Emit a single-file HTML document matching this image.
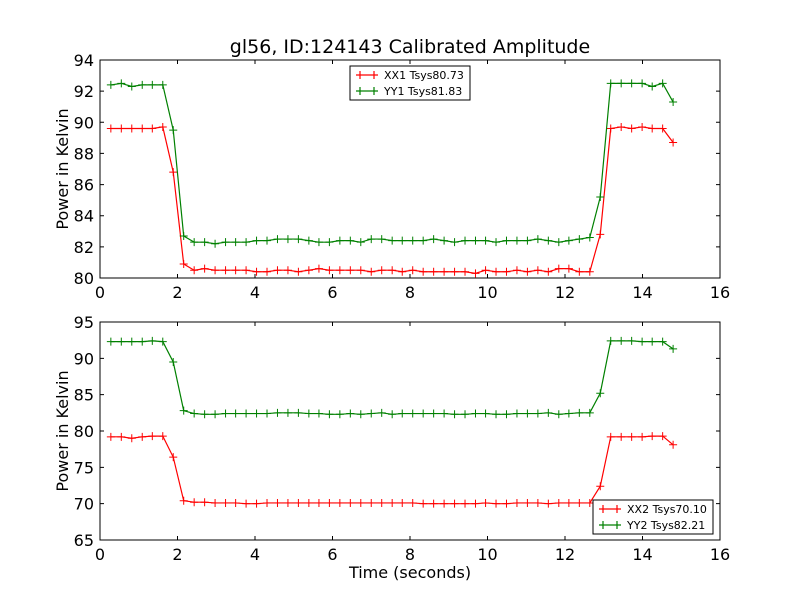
<!DOCTYPE html>
<html><head><meta charset="utf-8">
<style>
html,body{margin:0;padding:0;background:#fff;}
svg{display:block;font-family:"DejaVu Sans","Liberation Sans",sans-serif;}
</style></head>
<body>
<svg id="chart" width="800" height="600" viewBox="0 0 800 600">
<rect width="800" height="600" fill="#fff"/>
<text x="410" y="53" font-size="19" text-anchor="middle">gl56, ID:124143 Calibrated Amplitude</text>
</svg>
<script>
const times = [0.28,0.55,0.82,1.09,1.35,1.62,1.89,2.16,2.43,2.70,2.97,3.24,3.50,3.77,4.04,4.31,4.58,4.85,5.12,5.39,5.65,5.92,6.19,6.46,6.73,7.00,7.27,7.54,7.80,8.07,8.34,8.61,8.88,9.15,9.42,9.69,9.95,10.22,10.49,10.76,11.03,11.30,11.57,11.84,12.10,12.37,12.64,12.91,13.18,13.45,13.72,13.99,14.25,14.52,14.79];
const xx1 = [89.6,89.6,89.6,89.6,89.6,89.7,86.8,80.9,80.5,80.6,80.5,80.5,80.5,80.5,80.4,80.4,80.5,80.5,80.4,80.5,80.6,80.5,80.5,80.5,80.5,80.4,80.5,80.5,80.4,80.5,80.4,80.4,80.4,80.4,80.4,80.3,80.5,80.4,80.4,80.5,80.4,80.5,80.4,80.6,80.6,80.4,80.4,82.8,89.6,89.7,89.6,89.7,89.6,89.6,88.7];
const yy1 = [92.4,92.5,92.3,92.4,92.4,92.4,89.5,82.7,82.3,82.3,82.2,82.3,82.3,82.3,82.4,82.4,82.5,82.5,82.5,82.4,82.3,82.3,82.4,82.4,82.3,82.5,82.5,82.4,82.4,82.4,82.4,82.5,82.4,82.3,82.4,82.4,82.4,82.3,82.4,82.4,82.4,82.5,82.4,82.3,82.4,82.5,82.6,85.2,92.5,92.5,92.5,92.5,92.3,92.5,91.3];
const xx2 = [79.2,79.2,79.0,79.2,79.3,79.3,76.4,70.4,70.2,70.2,70.1,70.1,70.1,70.0,70.0,70.1,70.1,70.1,70.1,70.1,70.1,70.1,70.1,70.1,70.1,70.1,70.1,70.1,70.1,70.1,70.0,70.0,70.0,70.0,70.0,70.0,70.1,70.0,70.0,70.1,70.1,70.1,70.0,70.1,70.1,70.1,70.1,72.4,79.2,79.2,79.2,79.2,79.3,79.3,78.1];
const yy2 = [92.3,92.3,92.3,92.3,92.4,92.3,89.5,82.8,82.4,82.3,82.3,82.4,82.4,82.4,82.4,82.4,82.5,82.5,82.5,82.4,82.4,82.3,82.3,82.4,82.3,82.4,82.5,82.3,82.4,82.4,82.4,82.4,82.4,82.3,82.3,82.4,82.4,82.3,82.3,82.4,82.4,82.4,82.5,82.3,82.4,82.5,82.5,85.2,92.4,92.4,92.4,92.3,92.3,92.3,91.3];
const xTicks = [0,2,4,6,8,10,12,14,16];
const yTicksTop = [80,82,84,86,88,90,92,94];
const yTicksBot = [65,70,75,80,85,90,95];
const legendTop = ["XX1 Tsys80.73","YY1 Tsys81.83"];
const legendBot = ["XX2 Tsys70.10","YY2 Tsys82.21"];

const NS = "http://www.w3.org/2000/svg";
const svg = document.getElementById('chart');
function mk(tag, attrs, parent){
  const e = document.createElementNS(NS, tag);
  for (const k in attrs) e.setAttribute(k, attrs[k]);
  (parent||svg).appendChild(e);
  return e;
}
const L = 100, R = 720;
const xScale = v => L + (v - 0) / 16 * (R - L);

function panel(top, bottom, ymin, ymax, yTicks, series, legend, lx, ly, name, showXTitle){
  const yScale = v => bottom - (v - ymin) / (ymax - ymin) * (bottom - top);
  const g = mk('g', {});
  
  
  // series
  series.forEach(s => {
    const sg = mk('g', {}, g);
    
    
    const pts = times.map((t,i) => xScale(t).toFixed(2) + ',' + yScale(s.vals[i]).toFixed(2)).join(' ');
    const pl = mk('polyline', {points: pts, fill: 'none', stroke: s.color, 'stroke-width': 1.2}, sg);
    
    
    times.forEach((t,i) => {
      const x = xScale(t), y = yScale(s.vals[i]);
      const m = mk('path', {d: `M${x-4},${y}H${x+4}M${x},${y-4}V${y+4}`, stroke: s.color, 'stroke-width': 1}, sg);
      
      
    });
  });
  // frame
  const fr = mk('rect', {x: L, y: top, width: R - L, height: bottom - top, fill: 'none', stroke: '#000', 'stroke-width': 1}, g);
  
  
  // x ticks
  xTicks.forEach(t => {
    const x = xScale(t);
    mk('path', {d: `M${x},${bottom}V${bottom-4}M${x},${top}V${top+4}`, stroke: '#000', 'stroke-width': 1}, g);
    const tl = mk('text', {x: x, y: bottom + 20, 'font-size': 16, 'text-anchor': 'middle'}, g);
    tl.textContent = t;
    
    
  });
  yTicks.forEach(t => {
    const y = yScale(t);
    mk('path', {d: `M${L},${y}H${L+4}M${R},${y}H${R-4}`, stroke: '#000', 'stroke-width': 1}, g);
    const tl = mk('text', {x: L - 6, y: y + 6, 'font-size': 16, 'text-anchor': 'end'}, g);
    tl.textContent = t;
    
    
  });
  const yt = mk('text', {x: 0, y: 0, 'font-size': 16, 'text-anchor': 'middle', transform: `translate(68,${(top+bottom)/2}) rotate(-90)`}, g);
  yt.textContent = 'Power in Kelvin';
  
  
  if (showXTitle){
    const xt = mk('text', {x: (L+R)/2, y: 578, 'font-size': 16, 'text-anchor': 'middle'}, g);
    xt.textContent = 'Time (seconds)';
    
    
  }
  // legend
  const lg = mk('g', {}, g);
  
  
  mk('rect', {x: lx, y: ly, width: 120, height: 34, fill: '#fff', stroke: '#000', 'stroke-width': 1}, lg);
  series.forEach((s, i) => {
    const yy = ly + 9 + i * 16;
    const e = mk('g', {}, lg);
    
    
    mk('path', {d: `M${lx+6},${yy}H${lx+28}M${lx+10},${yy-4}V${yy+4}M${lx+24},${yy-4}V${yy+4}`, stroke: s.color, 'stroke-width': 1.2}, e);
    const tx = mk('text', {x: lx + 34, y: yy + 4, 'font-size': 11}, e);
    tx.textContent = legend[i];
  });
}
panel(60, 278, 80, 94, yTicksTop,
  [{name: 'xx1-series', vals: xx1, color: '#ff0000'}, {name: 'yy1-series', vals: yy1, color: '#008000'}],
  legendTop, 350, 66, 'top-panel', false);
panel(322, 540, 65, 95, yTicksBot,
  [{name: 'xx2-series', vals: xx2, color: '#ff0000'}, {name: 'yy2-series', vals: yy2, color: '#008000'}],
  legendBot, 593, 500, 'bottom-panel', true);
</script>
</body></html>
